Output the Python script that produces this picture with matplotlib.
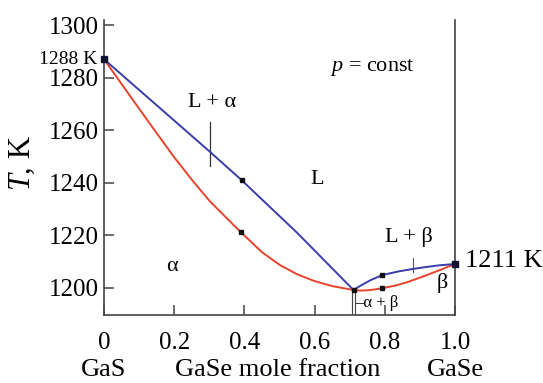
import matplotlib
matplotlib.use("Agg")
import matplotlib.pyplot as plt
import matplotlib.transforms as mtransforms

plt.rcParams['font.family'] = ['Liberation Serif', 'DejaVu Serif']
plt.rcParams['mathtext.fontset'] = 'custom'
plt.rcParams['mathtext.rm'] = 'Liberation Serif'
plt.rcParams['mathtext.it'] = 'Liberation Serif:italic'

# liquidus (blue) and solidus (red), GaS side and GaSe side
liq_a_x = [0, 0.3, 0.392, 0.55, 0.711]
liq_a_T = [1287, 1252, 1241, 1221, 1199.2]
sol_a_x = [0, 0.05, 0.1, 0.15, 0.2, 0.25, 0.3, 0.35, 0.39, 0.45, 0.5, 0.55, 0.6, 0.65, 0.711]
sol_a_T = [1287, 1277.6, 1268.2, 1258.9, 1249.7, 1241.2, 1233.2, 1226.5, 1221.2,
           1213.6, 1208.8, 1205.2, 1202.6, 1200.7, 1199.2]
liq_b_x = [0.711, 0.73, 0.76, 0.793, 0.84, 0.879, 0.92, 0.955, 1.0]
liq_b_T = [1199.2, 1200.8, 1203.0, 1204.9, 1206.3, 1207.2, 1208.0, 1208.6, 1209.1]
sol_b_x = [0.711, 0.73, 0.75, 0.77, 0.793, 0.83, 0.86, 0.906, 0.955, 1.0]
sol_b_T = [1199.2, 1199.0, 1199.1, 1199.4, 1199.9, 1200.9, 1202.0, 1204.2, 1206.7, 1209.1]

# experimental points
pts_x = [0.392, 0.39, 0.793, 0.793, 0.711]
pts_T = [1241, 1221.2, 1204.9, 1199.9, 1199.2]
end_x = [0, 1.0]
end_T = [1287, 1209.1]

xticks = [0, 0.2, 0.4, 0.6, 0.8, 1.0]
xticklabels = ['0', '0.2', '0.4', '0.6', '0.8', '1.0']
yticks = [1200, 1220, 1240, 1260, 1280, 1300]

blue = '#3a3caa'
red = '#e8432c'

fig = plt.figure(figsize=(5.43, 3.83), dpi=100)
ax = fig.add_axes([104 / 543, 1 - 315 / 383, 351 / 543, (315 - 19.8) / 383])

ax.plot(liq_a_x, liq_a_T, color=blue, lw=1.4, zorder=3)
ax.plot(liq_b_x, liq_b_T, color=blue, lw=1.4, zorder=3)
ax.plot(sol_a_x, sol_a_T, color=red, lw=1.4, zorder=2)
ax.plot(sol_b_x, sol_b_T, color=red, lw=1.4, zorder=2)
ax.plot(pts_x, pts_T, 's', color='#111111', ms=3, zorder=4)
ax.plot(end_x, end_T, 's', color='#111133', ms=4.5, zorder=5, clip_on=False)

# pointer lines for the two-phase regions
ax.plot([0.301, 0.301], [1263, 1246.5], color='#333333', lw=0.9)
ax.plot([0.879, 0.879], [1211.3, 1206.0], color='#555555', lw=0.8)
# eutectic double line
ax.plot([0.707, 0.707], [1198.6, 1189.7], color='#444444', lw=0.8)
ax.plot([0.714, 0.714], [1198.6, 1189.7], color='#444444', lw=0.8)

ax.set_xlim(0, 1.0)
ax.set_ylim(1189.7, 1302)
ax.set_xticks(xticks)
ax.set_xticklabels(xticklabels)
ax.set_yticks(yticks)
ax.tick_params(axis='both', direction='in', length=7, width=1.1, color='#444444',
               labelsize=18)
ax.tick_params(axis='x', pad=12)
ax.tick_params(axis='y', pad=4)

for s in ['left', 'bottom', 'right']:
    ax.spines[s].set_color('#444444')
    ax.spines[s].set_linewidth(1.2)
ax.spines['top'].set_visible(False)

ax.text(-0.234, 0.515, '$T$, K', fontsize=22, rotation=90, ha='center', va='center',
        transform=ax.transAxes)

# region labels
ax.text(0.308, 1270.7, 'L + α', fontsize=16, ha='center', va='center')
ax.text(0.607, 1241.1, 'L', fontsize=16, ha='center', va='center')
ax.text(0.194, 1208.0, 'α', fontsize=16, ha='center', va='center')
ax.text(0.869, 1219.4, 'L + β', fontsize=16, ha='center', va='center')
ax.text(0.963, 1202.0, 'β', fontsize=16, ha='center', va='center')
ax.text(0.716, 1194.3, '–α + β', fontsize=12, ha='left', va='center')
ax.text(0.644, 1283.7, '$p$ = const', fontsize=16, ha='left', va='center')
ax.text(-0.02, 1287, '1288 K', fontsize=14, ha='right', va='center')
ax.text(1.028, 1210.3, '1211 K', fontsize=19, ha='left', va='center')

# composition labels under the axis
trans = mtransforms.blended_transform_factory(ax.transData, ax.transAxes)
ax.text(0.0, -0.207, 'GaS', fontsize=19, ha='center', va='baseline', transform=trans)
ax.text(0.494, -0.207, 'GaSe mole fraction', fontsize=19, ha='center', va='baseline', transform=trans)
ax.text(1.0, -0.207, 'GaSe', fontsize=19, ha='center', va='baseline', transform=trans)

fig.savefig('out.png', dpi=100)
